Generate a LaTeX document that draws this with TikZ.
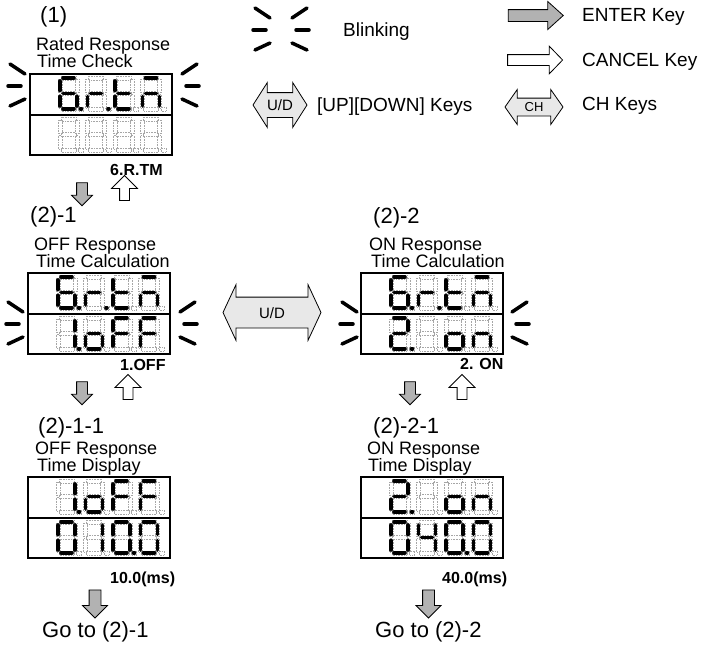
\documentclass[tikz,border=0pt]{standalone}
\usepackage{fontspec}
\setmainfont{Liberation Sans}
\usetikzlibrary{shapes.arrows,calc}

\tikzset{
  lcd/.style={draw,line width=2.4pt,minimum width=142pt,minimum height=81pt,inner sep=0pt,outer sep=0pt},
  segon/.style={line width=3.6pt,line cap=round},
  segoff/.style={draw=gray!70,line width=0.5pt,dash pattern=on 0.6pt off 1pt},
  blinkline/.style={line width=3.5pt,line cap=round},
  keyarrow/.style={draw,line width=0.8pt,inner xsep=0pt},
  enterkey/.style={keyarrow,single arrow,fill=gray!60},
  cancelkey/.style={keyarrow,single arrow,fill=white},
  udkey/.style={keyarrow,double arrow,fill=gray!18},
  hdtext/.style={anchor=base west,inner sep=0pt,font=\fontsize{22}{22}\selectfont},
  titletext/.style={anchor=base west,inner sep=0pt,font=\fontsize{18}{18}\selectfont},
  valtext/.style={anchor=base west,inner sep=0pt,font=\bfseries\fontsize{16}{16}\selectfont},
  legtext/.style={anchor=base west,inner sep=0pt,font=\fontsize{19}{19}\selectfont},
}

% one seven segment digit: #1 top left corner, #2 macro with the lit segments
\newcommand\segdigit[2]{%
  \begin{scope}[shift={#1}]
    \foreach \s/\xa/\ya/\xb/\yb in {a/3/0/14/0,b/17/3/17/12.5,c/17/18.5/17/28,
        d/3/31/14/31,e/0/18.5/0/28,f/0/3/0/12.5,g/3/15.5/14/15.5,p/20.5/31/21.5/31}{
      \draw[segoff] (\xa-2,\ya-2) rectangle (\xb+2,\yb+2);
      \coordinate (seg\s-s) at (\xa,\ya);
      \coordinate (seg\s-e) at (\xb,\yb);
    }
    \if\relax\detokenize\expandafter{#2}\relax\else
      \foreach \s in #2 {\draw[segon] (seg\s-s) -- (seg\s-e);}
    \fi
  \end{scope}}

% four digits in a row of a display: #1 display node, #2 row top, #3 lit segments
\newcommand\lcdrow[3]{%
  \foreach \lit [count=\i from 0] in {#3}
    {\segdigit{($(#1.north west)+(30+27.5*\i,#2)$)}{\lit}}}

% blinking marks: #1 left inner x, #2 right inner x, #3 centre y
\newcommand\blinkmarks[3]{%
  \draw[blinkline] (#1-15,#3-22) -- (#1,#3-12);
  \draw[blinkline] (#1-17,#3) -- (#1-4,#3);
  \draw[blinkline] (#1-15,#3+20) -- (#1,#3+13);
  \draw[blinkline] (#2,#3-12) -- (#2+15,#3-22);
  \draw[blinkline] (#2+4,#3) -- (#2+17,#3);
  \draw[blinkline] (#2,#3+13) -- (#2+15,#3+20);}

\begin{document}
\begin{tikzpicture}[x=1pt,y=-1pt]
\useasboundingbox (0,0) rectangle (704,646);

% legend
\blinkmarks{270}{292}{30}
\node[legtext] (lgBlink) at (343,36) {Blinking};
\node[udkey,font=\fontsize{15}{15}\selectfont,text height=10pt,text depth=0pt,inner ysep=7pt,
  minimum height=54pt,minimum width=44pt,double arrow head extend=10pt,double arrow tip angle=115] (lgUD) at (280,105) {U/D};
\node[legtext] (lgUDtext) at (317,111) {[UP][DOWN] Keys};
\node[enterkey,minimum height=55pt,minimum width=27pt,inner ysep=5.5pt,
  single arrow head extend=8pt,single arrow tip angle=84] (lgEnter) at (532.5,15.5) {};
\node[legtext] (lgEntertext) at (582,21) {ENTER Key};
\node[cancelkey,minimum height=55pt,minimum width=27pt,inner ysep=5pt,
  single arrow head extend=8.5pt,single arrow tip angle=92] (lgCancel) at (532.5,60) {};
\node[legtext] (lgCanceltext) at (582,66) {CANCEL Key};
\node[udkey,font=\fontsize{13}{13}\selectfont,text height=9pt,text depth=0pt,inner ysep=4pt,
  minimum height=58pt,minimum width=34pt,double arrow head extend=8.5pt,double arrow tip angle=110] (lgCH) at (534,107) {CH};
\node[legtext] (lgCHtext) at (582,110) {CH Keys};

% (1) rated response time check
\node[hdtext] (hA) at (40,22) {(1)};
\node[titletext] (tA1) at (36,50) {Rated Response};
\node[titletext] (tA2) at (37,67) {Time Check};
\node[lcd] (lcdA) at (101,114.5) {};
\draw[line width=2pt] (lcdA.west) -- (lcdA.east);
\lcdrow{lcdA}{4}{{a,c,d,e,f,g,p},{e,g,p},{d,e,f,g},{a,c,e,g}}
\lcdrow{lcdA}{45}{{},{},{},{}}
\blinkmarks{25}{182}{86}
\node[valtext] (vA) at (110,175) {6.R.TM};
\node[enterkey,rotate=-90,minimum height=23pt,minimum width=20pt,inner ysep=5pt,
  single arrow head extend=5pt,single arrow tip angle=90] (enterA) at (82,191.5) {};
\node[cancelkey,rotate=90,minimum height=25pt,minimum width=25pt,inner ysep=4.5pt,
  single arrow head extend=8pt,single arrow tip angle=90] (cancelA) at (124.5,190.5) {};

% (2)-1 off response time calculation
\node[hdtext] (hB) at (30,222) {(2)-1};
\node[titletext] (tB1) at (34,250) {OFF Response};
\node[titletext] (tB2) at (36,267) {Time Calculation};
\node[lcd] (lcdB) at (99,313.5) {};
\draw[line width=2pt] (lcdB.west) -- (lcdB.east);
\lcdrow{lcdB}{4}{{a,c,d,e,f,g,p},{e,g,p},{d,e,f,g},{a,c,e,g}}
\lcdrow{lcdB}{45}{{b,c,p},{c,d,e,g},{a,e,f,g},{a,e,f,g}}
\blinkmarks{23}{180}{324}
\node[valtext] (vB) at (120,370) {1.OFF};
\node[enterkey,rotate=-90,minimum height=23pt,minimum width=20pt,inner ysep=5pt,
  single arrow head extend=5pt,single arrow tip angle=90] (enterB) at (82,390.5) {};
\node[cancelkey,rotate=90,minimum height=25pt,minimum width=25pt,inner ysep=4.5pt,
  single arrow head extend=8pt,single arrow tip angle=90] (cancelB) at (128,389.5) {};

% up/down between (2)-1 and (2)-2
\node[udkey,font=\fontsize{15}{15}\selectfont,text height=11pt,text depth=0pt,inner ysep=9.5pt,
  minimum height=98pt,minimum width=55pt,double arrow head extend=12.5pt,double arrow tip angle=130] (udMid) at (272,312.5) {U/D};

% (2)-2 on response time calculation
\node[hdtext] (hC) at (373,223) {(2)-2};
\node[titletext] (tC1) at (369,250) {ON Response};
\node[titletext] (tC2) at (371,267) {Time Calculation};
\node[lcd] (lcdC) at (432,313.5) {};
\draw[line width=2pt] (lcdC.west) -- (lcdC.east);
\lcdrow{lcdC}{4}{{a,c,d,e,f,g,p},{e,g,p},{d,e,f,g},{a,c,e,g}}
\lcdrow{lcdC}{45}{{a,b,d,e,g,p},{},{c,d,e,g},{c,e,g}}
\blinkmarks{357}{512}{324}
\node[valtext] (vC) at (460,369) {2. ON};
\node[enterkey,rotate=-90,minimum height=23pt,minimum width=20pt,inner ysep=5pt,
  single arrow head extend=5pt,single arrow tip angle=90] (enterC) at (410,390.5) {};
\node[cancelkey,rotate=90,minimum height=25pt,minimum width=25pt,inner ysep=4.5pt,
  single arrow head extend=8pt,single arrow tip angle=90] (cancelC) at (462,389.5) {};

% (2)-1-1 off response time display
\node[hdtext] (hD) at (38,433) {(2)-1-1};
\node[titletext] (tD1) at (35,454) {OFF Response};
\node[titletext] (tD2) at (37,471) {Time Display};
\node[lcd] (lcdD) at (99,517.5) {};
\draw[line width=2pt] (lcdD.west) -- (lcdD.east);
\lcdrow{lcdD}{4}{{b,c,p},{c,d,e,g},{a,e,f,g},{a,e,f,g}}
\lcdrow{lcdD}{45}{{a,b,c,d,e,f},{b,c},{a,b,c,d,e,f,p},{a,b,c,d,e,f}}
\node[valtext] (vD) at (110,583) {10.0(ms)};
\node[enterkey,rotate=-90,minimum height=28pt,minimum width=24pt,inner ysep=5.5pt,
  single arrow head extend=6.5pt,single arrow tip angle=90] (enterD) at (95,601) {};
\node[hdtext] (gD) at (42,637) {Go to (2)-1};

% (2)-2-1 on response time display
\node[hdtext] (hE) at (373,433) {(2)-2-1};
\node[titletext] (tE1) at (367,454) {ON Response};
\node[titletext] (tE2) at (368,471) {Time Display};
\node[lcd] (lcdE) at (432,517.5) {};
\draw[line width=2pt] (lcdE.west) -- (lcdE.east);
\lcdrow{lcdE}{4}{{a,b,d,e,g,p},{},{c,d,e,g},{c,e,g}}
\lcdrow{lcdE}{45}{{a,b,c,d,e,f},{b,c,f,g},{a,b,c,d,e,f,p},{a,b,c,d,e,f}}
\node[valtext] (vE) at (442,583) {40.0(ms)};
\node[enterkey,rotate=-90,minimum height=28pt,minimum width=24pt,inner ysep=5.5pt,
  single arrow head extend=6.5pt,single arrow tip angle=90] (enterE) at (428.5,601) {};
\node[hdtext] (gE) at (375,637) {Go to (2)-2};
\end{tikzpicture}
\end{document}
